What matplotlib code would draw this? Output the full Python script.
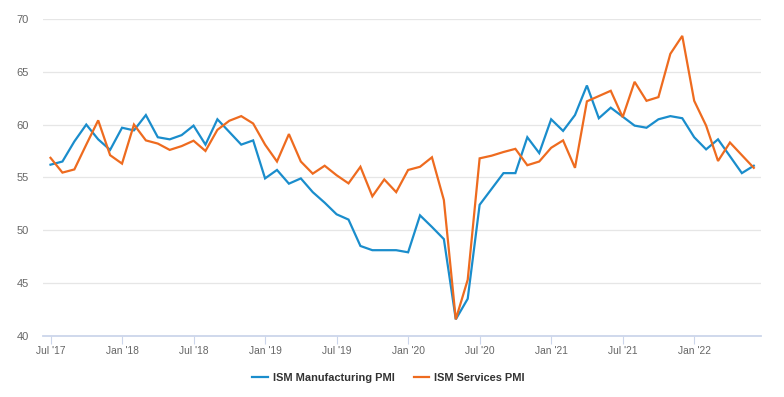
import matplotlib
matplotlib.use("Agg")
import matplotlib.pyplot as plt
from matplotlib.lines import Line2D

plt.rcParams['font.family'] = ['Liberation Sans', 'DejaVu Sans']

tick_labels = ["Jul '17", "Jan '18", "Jul '18", "Jan '19", "Jul '19",
               "Jan '20", "Jul '20", "Jan '21", "Jul '21", "Jan '22"]

manufacturing = [56.2, 56.5, 58.4, 60.0, 58.6, 57.6, 59.7, 59.45, 60.9, 58.8,
                 58.6, 59.0, 59.9, 58.1, 60.5, 59.3, 58.1, 58.5, 54.9, 55.7,
                 54.4, 54.9, 53.6, 52.6, 51.5, 51.0, 48.5, 48.1, 48.1, 48.1,
                 47.9, 51.4, 50.3, 49.15, 41.55, 43.5, 52.4, 53.9, 55.4, 55.4,
                 58.8, 57.3, 60.5, 59.4, 60.9, 63.7, 60.6, 61.6, 60.75, 59.9,
                 59.7, 60.5, 60.8, 60.6, 58.8, 57.65, 58.6, 57.0, 55.4, 56.1]

services = [56.85, 55.45, 55.75, 58.1, 60.4, 57.1, 56.3, 60.0, 58.5, 58.2,
            57.6, 57.96, 58.47, 57.5, 59.5, 60.36, 60.8, 60.1, 58.1, 56.5,
            59.1, 56.5, 55.35, 56.1, 55.2, 54.43, 56.0, 53.2, 54.8, 53.6,
            55.7, 56.0, 56.9, 52.85, 41.55, 45.3, 56.8, 57.05, 57.4, 57.7,
            56.15, 56.5, 57.8, 58.5, 55.9, 62.2, 62.7, 63.2, 60.7, 64.05,
            62.25, 62.6, 66.7, 68.4, 62.25, 59.9, 56.55, 58.3, 57.1, 55.9]

blue = '#1a8dcc'
orange = '#ee6b1f'

W, H = 784, 397
fig = plt.figure(figsize=(W / 100, H / 100), dpi=100)
left, right, top, bottom = 43, 760.7, 19, 335.7
ax = fig.add_axes([left / W, 1 - bottom / H, (right - left) / W, (bottom - top) / H])

x = list(range(len(manufacturing)))
ax.plot(x, manufacturing, color=blue, lw=1.6, solid_joinstyle='miter', zorder=3)
ax.plot(x, services, color=orange, lw=1.6, solid_joinstyle='miter', zorder=3)

ax.set_xlim(-0.63, 59.58)
ax.set_ylim(40, 70)

ax.set_yticks([40, 45, 50, 55, 60, 65, 70])
ax.grid(axis='y', color='#e6e6e6', lw=0.9, zorder=0)
ax.grid(axis='x', visible=False)

ax.set_xticks(list(range(0, 60, 6)))
ax.set_xticklabels(tick_labels)

for s in ['top', 'right', 'left']:
    ax.spines[s].set_visible(False)
ax.spines['bottom'].set_color('#ccd6eb')
ax.spines['bottom'].set_linewidth(1.3)
ax.spines['bottom'].set_zorder(2)

ax.tick_params(axis='y', length=0, pad=10, labelsize=8, labelcolor='#666666')
ax.tick_params(axis='x', length=6, width=0.8, color='#ccd6eb', pad=1.5,
               labelsize=7.4, labelcolor='#666666')

handles = [Line2D([], [], color=blue, lw=1.6), Line2D([], [], color=orange, lw=1.6)]
fig.legend(handles, ['ISM Manufacturing PMI', 'ISM Services PMI'],
           loc='center', bbox_to_anchor=(388.5 / W, 1 - 378 / H), ncol=2,
           frameon=False, prop={'size': 7.9, 'weight': 'bold'},
           labelcolor='#333333', handlelength=1.4, handletextpad=0.45,
           columnspacing=1.75, borderpad=0, borderaxespad=0)

fig.savefig('out.png', dpi=100, facecolor='white')
